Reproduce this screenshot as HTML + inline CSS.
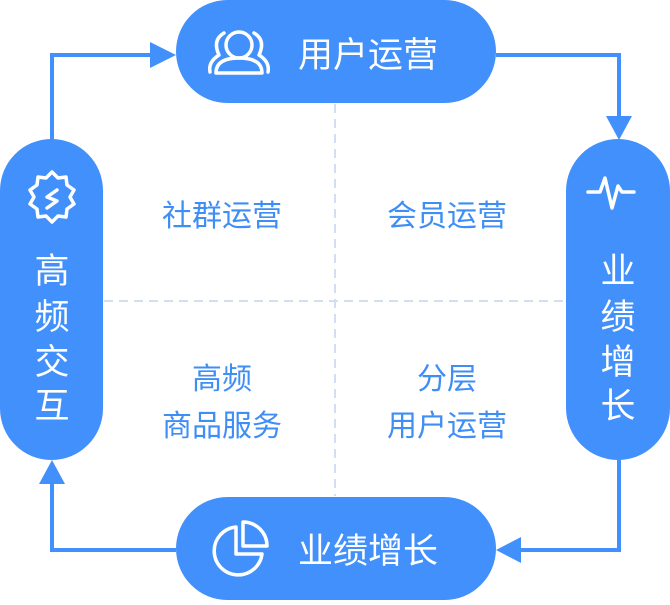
<!DOCTYPE html>
<html><head><meta charset="utf-8"><style>
body{margin:0;width:670px;height:600px;background:#fff;overflow:hidden}
</style></head><body>
<svg width="670" height="600" viewBox="0 0 670 600" xmlns="http://www.w3.org/2000/svg" font-family="Liberation Sans, Noto Sans CJK SC, sans-serif">
<g stroke="#d3def2" stroke-width="2" stroke-dasharray="9,6" fill="none">
<line x1="335" y1="104" x2="335" y2="496"/>
<line x1="104" y1="301" x2="566" y2="301"/>
</g>
<g stroke="#4190fb" stroke-width="4" fill="none">
<polyline points="52,140 52,55 155,55"/>
<polyline points="496,55 619,55 619,120"/>
<polyline points="619,460 619,550 516,550"/>
<polyline points="176,550 52,550 52,480"/>
</g>
<g fill="#4190fb">
<polygon points="150,42 176,55 150,68"/>
<polygon points="606,116 632,116 619,140"/>
<polygon points="521,537 521,563 496,550"/>
<polygon points="39,484 65,484 52,460"/>
<rect x="176" y="0" width="320" height="103" rx="51.5"/>
<rect x="176" y="497" width="320" height="103" rx="51.5"/>
<rect x="0" y="139" width="103" height="321" rx="51.5"/>
<rect x="566" y="139" width="104" height="321" rx="52"/>
</g>
<g fill="#fff" font-size="35" text-anchor="middle">
<text x="368" y="67">用户运营</text>
<text x="368" y="563">业绩增长</text>
<text x="52" y="283">高</text><text x="52" y="329">频</text><text x="52" y="374">交</text><text x="52" y="418">互</text>
<text x="618" y="283">业</text><text x="618" y="329">绩</text><text x="618" y="374">增</text><text x="618" y="418">长</text>
</g>
<g fill="#3f8ef5" font-size="30" text-anchor="middle">
<text x="222" y="226">社群运营</text>
<text x="447" y="226">会员运营</text>
<text x="222" y="389">高频</text>
<text x="222" y="436">商品服务</text>
<text x="447" y="389">分层</text>
<text x="447" y="436">用户运营</text>
</g>
<g stroke="#fff" stroke-width="3.5" fill="none" stroke-linecap="round" stroke-linejoin="round">
<circle cx="239" cy="45" r="13"/>
<path d="M216,73 Q216,58 239,58 Q262,58 262,73 Z"/>
<path d="M224,33 Q212,40 219,55 Q208,62 210,72"/>
<path d="M254,33 Q266,40 259,55 Q270,62 268,72"/>
<path d="M52,172 l6,6 8,-1 1,8 7,5 -4,7 4,7 -7,5 -1,8 -8,-1 -6,6 -6,-6 -8,1 -1,-8 -7,-5 4,-7 -4,-7 7,-5 1,-8 8,1 z"/>
<path d="M57,190 l-10,7 10,4 -10,7"/>
<path d="M588,192 h12 l5,-14 7,30 6,-22 4,6 h12"/>
<path d="M236,527 A24,24 0 1 0 262,554 H236 Z"/>
<path d="M243,522 A24,24 0 0 1 267,546 H243 Z"/>
</g>
</svg>
</body></html>
